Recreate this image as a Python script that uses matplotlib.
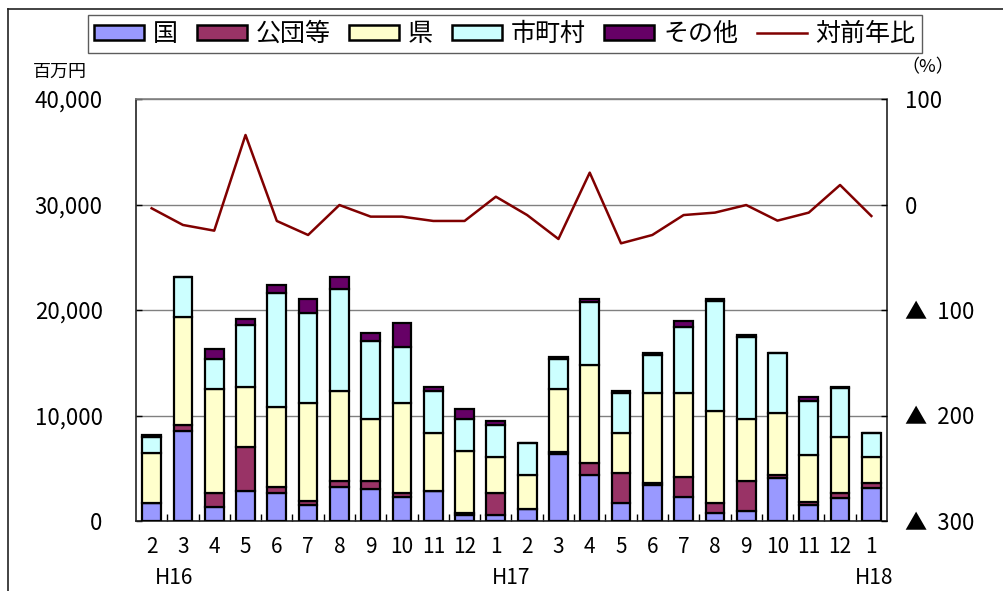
import matplotlib
matplotlib.use("Agg")
import matplotlib.pyplot as plt
import numpy as np
from matplotlib.patches import Patch
from matplotlib.lines import Line2D

plt.rcParams['font.family'] = ['Noto Sans CJK JP', 'DejaVu Sans']

months = ["2", "3", "4", "5", "6", "7", "8", "9", "10", "11", "12", "1",
          "2", "3", "4", "5", "6", "7", "8", "9", "10", "11", "12", "1"]
eras = ["H16", "H17", "H18"]

kuni = [1700, 8560, 1360, 2840, 2690, 1520, 3250, 3030, 2310, 2840, 570, 570,
        1110, 6350, 4360, 1680, 3410, 2310, 790, 980, 4050, 1520, 2150, 3100]
kodan = [0, 540, 1330, 4200, 560, 410, 570, 790, 380, 0, 220, 2120,
         0, 200, 1170, 2900, 220, 1890, 950, 2840, 310, 310, 540, 530]
ken = [4780, 10210, 9820, 5690, 7590, 9290, 8500, 5850, 8530, 5530, 5870, 3410,
       3250, 5950, 9260, 3790, 8530, 7960, 8720, 5850, 5910, 4430, 5300, 2470]
shichoson = [1500, 3850, 2880, 5850, 10800, 8530, 9670, 7420, 5270, 3950, 3010, 3000,
             3060, 2900, 6000, 3730, 3580, 6260, 10400, 7800, 5630, 5140, 4590, 2270]
sonota = [200, 0, 950, 570, 760, 1290, 1170, 760, 2310, 410, 950, 380,
          0, 150, 250, 220, 160, 540, 160, 160, 0, 380, 150, 0]
yoy = [-3.6, -19.4, -24.8, 65.9, -15.6, -28.9, -0.5, -11.5, -11.5, -15.6, -15.6, 7.4,
       -10.0, -32.7, 30.2, -36.8, -28.9, -10.0, -7.7, -0.5, -15.3, -7.7, 18.5, -10.9]

series = [("国", kuni, "#9999FF"), ("公団等", kodan, "#993366"), ("県", ken, "#FFFFCC"),
          ("市町村", shichoson, "#CCFFFF"), ("その他", sonota, "#660066")]
line_color = "#800000"

W, H = 1004, 591
fig = plt.figure(figsize=(W / 100, H / 100), dpi=100)
ax = fig.add_axes([136 / W, (H - 521) / H, (887 - 136) / W, (521 - 99) / H])

x = np.arange(len(months))
bottom = np.zeros(len(months))
for name, vals, col in series:
    v = np.array(vals, dtype=float)
    ax.bar(x, v, 0.6, bottom=bottom, color=col, edgecolor="black", linewidth=1.6, zorder=3)
    bottom += v

ax.set_xlim(-0.5, len(months) - 0.5)
ax.set_ylim(0, 40000)
ax.set_yticks(np.arange(0, 40001, 10000))
ax.set_yticklabels([f"{v:,}" for v in range(0, 40001, 10000)], fontsize=16)
ax.yaxis.grid(True, color="#808080", linewidth=1.0, zorder=0)
ax.tick_params(axis="y", direction="in", length=4, pad=24, width=1)
ax.set_xticks(x)
ax.set_xticklabels(months, fontsize=15)
ax.tick_params(axis="x", length=0, pad=11)
ax.set_xticks(np.arange(-0.5, len(months), 1.0)[1:-1], minor=True)
ax.tick_params(axis="x", which="minor", direction="in", length=5, width=1)
for s in ["left", "bottom", "right"]:
    ax.spines[s].set_color("#222222")
    ax.spines[s].set_linewidth(1.2)
ax.spines["top"].set_color("#808080")
ax.spines["top"].set_linewidth(1.2)

for lab, xp in zip(eras, [0.72, 11.5, 23.1]):
    ax.text(xp, -0.135, lab, transform=ax.get_xaxis_transform(), ha="center", va="center", fontsize=15)

ax2 = ax.twinx()
ax2.plot(x, yoy, color=line_color, linewidth=1.8, zorder=4)
ax2.set_ylim(-300, 100)
ax2.set_yticks([100, 0, -100, -200, -300])
ax2.set_yticklabels(["100", "0", "▲  100", "▲  200", "▲  300"], fontsize=16)
ax2.tick_params(axis="y", direction="in", length=4, pad=13, width=1)
for s in ax2.spines.values():
    s.set_visible(False)

fig.text(33 / W, 1 - 72 / H, "百万円", fontsize=13, ha="left", va="center")
fig.text(901 / W, 1 - 67 / H, "（%）", fontsize=13, ha="left", va="center")

handles = [Patch(facecolor=c, edgecolor="black", linewidth=1.8, label=n) for n, _, c in series]
handles.append(Line2D([0], [0], color=line_color, linewidth=1.8, label="対前年比"))
leg = fig.legend(handles=handles, loc="center", bbox_to_anchor=(505 / W, 1 - 34 / H), ncol=6,
                 fontsize=18, frameon=True, fancybox=False, edgecolor="#333333",
                 handlelength=2.0, handleheight=0.55, handletextpad=0.35, columnspacing=0.75,
                 borderpad=0.25)
leg.get_frame().set_linewidth(1.0)

fig.add_artist(Line2D([8 / W, 8 / W], [0, 1 - 9 / H], color="#222222", linewidth=1.2, transform=fig.transFigure))
fig.add_artist(Line2D([8 / W, 1], [1 - 9 / H, 1 - 9 / H], color="#222222", linewidth=1.2, transform=fig.transFigure))

fig.savefig("out.png", dpi=100)
